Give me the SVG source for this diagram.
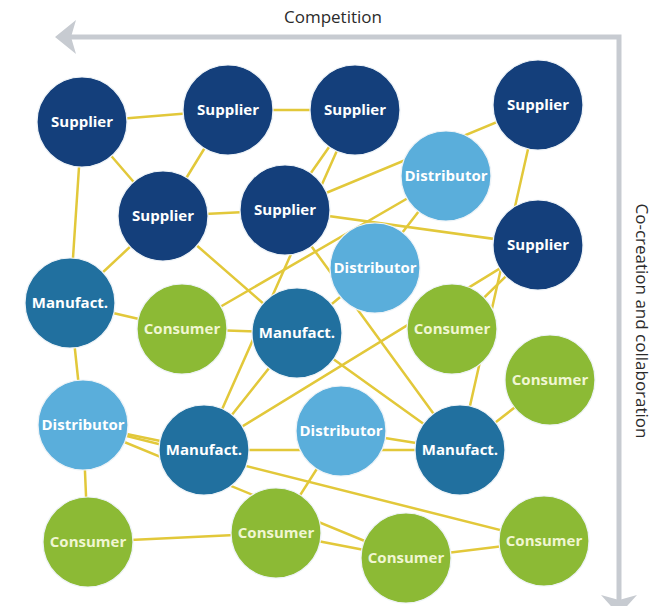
<svg xmlns="http://www.w3.org/2000/svg" width="664" height="606" viewBox="0 0 664 606">
<defs>
<style>
.edge{stroke:#e2c83a;stroke-width:2.5;fill:none;stroke-linecap:round}
.node circle{stroke:#eef3f7;stroke-width:1.2}
.sup circle{fill:#143f7b}
.man circle{fill:#21709f}
.dis circle{fill:#5aaedb}
.con circle{fill:#8cba35}
.node text{font-family:"Open Sans","Noto Sans","DejaVu Sans",sans-serif;font-weight:bold;font-size:15px;text-anchor:middle;fill:#ffffff}
.con text{fill:#f0f6d2}
.axis{stroke:#c7cbd1;stroke-width:5;fill:none}
.axislbl{font-family:"Open Sans","Noto Sans","DejaVu Sans",sans-serif;font-size:17px;fill:#2b2b2b;text-anchor:middle}
</style>
</defs>
<rect width="664" height="606" fill="#ffffff"/>
<g id="axes">
<polyline class="axis" points="70,37 619,37 619,600"/>
<polygon points="55,37 76,20 71,37 76,54" fill="#c7cbd1"/>
<polygon points="601,595 619,600 637,595 619,615" fill="#c7cbd1"/>
<text class="axislbl" x="333" y="23">Competition</text>
<text class="axislbl" transform="translate(636,321) rotate(90)">Co-creation and collaboration</text>
</g>
<g id="connectors">
<line class="edge" x1="82" y1="122" x2="228" y2="110"/>
<line class="edge" x1="228" y1="110" x2="355" y2="110"/>
<line class="edge" x1="82" y1="122" x2="163" y2="216"/>
<line class="edge" x1="228" y1="110" x2="163" y2="216"/>
<line class="edge" x1="82" y1="122" x2="70" y2="303"/>
<line class="edge" x1="163" y1="216" x2="70" y2="303"/>
<line class="edge" x1="163" y1="216" x2="285" y2="210"/>
<line class="edge" x1="163" y1="216" x2="297" y2="333"/>
<line class="edge" x1="355" y1="110" x2="285" y2="210"/>
<line class="edge" x1="355" y1="110" x2="204" y2="450"/>
<line class="edge" x1="285" y1="210" x2="538" y2="105"/>
<line class="edge" x1="285" y1="210" x2="538" y2="245"/>
<line class="edge" x1="538" y1="105" x2="460" y2="450"/>
<line class="edge" x1="538" y1="245" x2="452" y2="329"/>
<line class="edge" x1="550" y1="380" x2="460" y2="450"/>
<line class="edge" x1="182" y1="329" x2="446" y2="176"/>
<line class="edge" x1="375" y1="268" x2="446" y2="176"/>
<line class="edge" x1="70" y1="303" x2="182" y2="329"/>
<line class="edge" x1="70" y1="303" x2="83" y2="425"/>
<line class="edge" x1="182" y1="329" x2="297" y2="333"/>
<line class="edge" x1="297" y1="333" x2="375" y2="268"/>
<line class="edge" x1="204" y1="450" x2="297" y2="333"/>
<line class="edge" x1="204" y1="450" x2="538" y2="245"/>
<line class="edge" x1="285" y1="210" x2="460" y2="450"/>
<line class="edge" x1="297" y1="333" x2="460" y2="450"/>
<line class="edge" x1="83" y1="425" x2="88" y2="542"/>
<line class="edge" x1="83" y1="425" x2="204" y2="450"/>
<line class="edge" x1="83" y1="425" x2="544" y2="541"/>
<line class="edge" x1="83" y1="425" x2="406" y2="558"/>
<line class="edge" x1="204" y1="450" x2="460" y2="450"/>
<line class="edge" x1="341" y1="431" x2="460" y2="450"/>
<line class="edge" x1="341" y1="431" x2="276" y2="533"/>
<line class="edge" x1="88" y1="542" x2="276" y2="533"/>
<line class="edge" x1="276" y1="533" x2="406" y2="558"/>
<line class="edge" x1="406" y1="558" x2="544" y2="541"/>
</g>
<g id="supplier1" class="node sup"><circle cx="82" cy="122" r="45"/><text x="82" y="127">Supplier</text></g>
<g id="supplier2" class="node sup"><circle cx="228" cy="110" r="45"/><text x="228" y="115">Supplier</text></g>
<g id="supplier3" class="node sup"><circle cx="355" cy="110" r="45"/><text x="355" y="115">Supplier</text></g>
<g id="supplier4" class="node sup"><circle cx="538" cy="105" r="45"/><text x="538" y="110">Supplier</text></g>
<g id="supplier5" class="node sup"><circle cx="163" cy="216" r="45"/><text x="163" y="221">Supplier</text></g>
<g id="supplier6" class="node sup"><circle cx="285" cy="210" r="45"/><text x="285" y="215">Supplier</text></g>
<g id="distributor1" class="node dis"><circle cx="446" cy="176" r="45"/><text x="446" y="181">Distributor</text></g>
<g id="supplier7" class="node sup"><circle cx="538" cy="245" r="45"/><text x="538" y="250">Supplier</text></g>
<g id="distributor2" class="node dis"><circle cx="375" cy="268" r="45"/><text x="375" y="273">Distributor</text></g>
<g id="manufact1" class="node man"><circle cx="70" cy="303" r="45"/><text x="70" y="308">Manufact.</text></g>
<g id="consumer1" class="node con"><circle cx="182" cy="329" r="45"/><text x="182" y="334">Consumer</text></g>
<g id="manufact2" class="node man"><circle cx="297" cy="333" r="45"/><text x="297" y="338">Manufact.</text></g>
<g id="consumer2" class="node con"><circle cx="452" cy="329" r="45"/><text x="452" y="334">Consumer</text></g>
<g id="consumer3" class="node con"><circle cx="550" cy="380" r="45"/><text x="550" y="385">Consumer</text></g>
<g id="distributor3" class="node dis"><circle cx="83" cy="425" r="45"/><text x="83" y="430">Distributor</text></g>
<g id="manufact3" class="node man"><circle cx="204" cy="450" r="45"/><text x="204" y="455">Manufact.</text></g>
<g id="distributor4" class="node dis"><circle cx="341" cy="431" r="45"/><text x="341" y="436">Distributor</text></g>
<g id="manufact4" class="node man"><circle cx="460" cy="450" r="45"/><text x="460" y="455">Manufact.</text></g>
<g id="consumer4" class="node con"><circle cx="88" cy="542" r="45"/><text x="88" y="547">Consumer</text></g>
<g id="consumer5" class="node con"><circle cx="276" cy="533" r="45"/><text x="276" y="538">Consumer</text></g>
<g id="consumer6" class="node con"><circle cx="406" cy="558" r="45"/><text x="406" y="563">Consumer</text></g>
<g id="consumer7" class="node con"><circle cx="544" cy="541" r="45"/><text x="544" y="546">Consumer</text></g>
</svg>
